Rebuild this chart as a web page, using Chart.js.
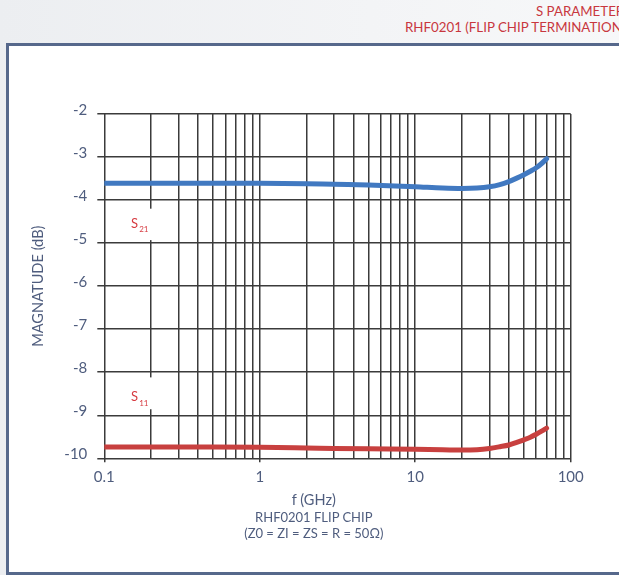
<!DOCTYPE html>
<html>
<head>
<meta charset="utf-8">
<script src="https://cdn.jsdelivr.net/npm/chart.js@4.4.1/dist/chart.umd.min.js"></script>
<style>
  html, body { margin: 0; padding: 0; width: 619px; height: 575px; overflow: hidden; }
  body { background: linear-gradient(90deg, #eceef1 0%, #f3f4f6 60%, #f7f8f9 100%); font-family: Lato, "Open Sans", sans-serif; position: relative; }
  .hdr { position: absolute; white-space: nowrap; color: #c8373e; font-size: 13.3px; line-height: 15px; }
  #panel { position: absolute; left: 6px; top: 43px; width: 700px; height: 532px; box-sizing: border-box;
           background: #ffffff; border: 3px solid #56688b; border-right: none; }
  #chartWrap { position: absolute; left: 0; top: 0; width: 619px; height: 575px; }
  #xnote { position: absolute; left: 163.8px; width: 300px; top: 490px; text-align: center; color: #4f5d7e; }
  #xnote .main { font-size: 14.5px; line-height: 20px; }
  #xnote .sub { font-size: 13px; line-height: 15.5px; }
</style>
</head>
<body>
<div class="hdr" style="left:536px; top:4px;">S PARAMETERS</div>
<div class="hdr" style="left:405px; top:20px;">RHF0201 (FLIP CHIP TERMINATION)</div>
<div id="panel"></div>
<div id="chartWrap"><canvas id="c" width="619" height="575"></canvas></div>
<div id="xnote">
  <div class="main">f (GHz)</div>
  <div class="sub">RHF0201 FLIP CHIP</div>
  <div class="sub">(Z0 = ZI = ZS = R = 50Ω)</div>
</div>
<script>
// Frequency sweep (GHz) and measured magnitudes (dB)
const freqGHz = [0.1, 0.2, 0.5, 1, 2, 3, 5, 10, 15, 20, 25, 30, 35, 40, 45, 50, 55, 60, 65, 70];
const s21dB   = [-3.61, -3.61, -3.61, -3.61, -3.62, -3.635, -3.65, -3.69, -3.72, -3.73, -3.72, -3.69, -3.64, -3.57, -3.49, -3.41, -3.33, -3.25, -3.15, -3.04];
const s11dB   = [-9.74, -9.74, -9.74, -9.745, -9.76, -9.77, -9.78, -9.79, -9.80, -9.81, -9.80, -9.77, -9.73, -9.69, -9.63, -9.57, -9.51, -9.44, -9.37, -9.30];

// Axis ticks
const xGridValues = [0.1,0.2,0.3,0.4,0.5,0.6,0.7,0.8,0.9,1,2,3,4,5,6,7,8,9,10,20,30,40,50,60,70,80,90,100];
const xTickLabels = { 0.1: '0.1', 1: '1', 10: '10', 100: '100' };
const yMin = -10, yMax = -2;

// Trace labels placed beside the 0.2 GHz grid line
const traceLabels = [
  { name: 'S', sub: '21', f: 0.2, dB: -4.54, boxTop: -4.2, boxBottom: -4.93 },
  { name: 'S', sub: '11', f: 0.2, dB: -8.58, boxTop: -8.12, boxBottom: -8.86 }
];

const gridColor = '#3b3b3b';
const textColor = '#4f5d7e';
const fontFamily = 'Lato, "Open Sans", sans-serif';
const isMajor = v => Math.abs(Math.log10(v) - Math.round(Math.log10(v))) < 1e-6;

const traceLabelPlugin = {
  id: 'traceLabels',
  afterDraw(chart) {
    const ctx = chart.ctx;
    const xs = chart.scales.x, ys = chart.scales.y;
    ctx.save();
    traceLabels.forEach(l => {
      const gx = xs.getPixelForValue(l.f);
      const top = ys.getPixelForValue(l.boxTop);
      const bot = ys.getPixelForValue(l.boxBottom);
      ctx.fillStyle = '#ffffff';
      ctx.fillRect(gx - 26, top, 30, bot - top);
      const y = ys.getPixelForValue(l.dB);
      ctx.fillStyle = '#d63a40';
      ctx.textBaseline = 'middle';
      ctx.textAlign = 'left';
      ctx.font = '13px ' + fontFamily;
      ctx.fillText(l.name, gx - 20, y);
      const w = ctx.measureText(l.name).width;
      ctx.font = '8px ' + fontFamily;
      ctx.fillText(l.sub, gx - 20 + w + 1, y + 6);
    });
    ctx.restore();
  }
};

new Chart(document.getElementById('c'), {
  type: 'line',
  data: {
    labels: freqGHz,
    datasets: [
      { label: 'S21', data: freqGHz.map((f, i) => ({ x: f, y: s21dB[i] })), borderColor: '#4179c1',
        borderWidth: 5, pointRadius: 0, cubicInterpolationMode: 'monotone', borderCapStyle: 'round' },
      { label: 'S11', data: freqGHz.map((f, i) => ({ x: f, y: s11dB[i] })), borderColor: '#c8403f',
        borderWidth: 5, pointRadius: 0, cubicInterpolationMode: 'monotone', borderCapStyle: 'round' }
    ]
  },
  options: {
    responsive: false,
    animation: false,
    events: [],
    layout: { padding: { left: 0, right: 48.3, top: 114, bottom: 0 } },
    plugins: { legend: { display: false }, tooltip: { enabled: false } },
    scales: {
      x: {
        type: 'logarithmic',
        min: 0.1, max: 100,
        afterBuildTicks(scale) { scale.ticks = xGridValues.map(v => ({ value: v })); },
        afterFit(scale) { scale.height = 575 - 458.3; },
        ticks: {
          autoSkip: false, maxRotation: 0, padding: 6,
          color: textColor, font: { family: fontFamily, size: 15 },
          callback: v => xTickLabels[v] || ''
        },
        grid: {
          color: gridColor, lineWidth: 1.5, tickLength: 4,
          tickColor: c => (c.tick && isMajor(c.tick.value)) ? gridColor : 'rgba(0,0,0,0)'
        },
        border: { display: false }
      },
      y: {
        min: yMin, max: yMax,
        afterFit(scale) { scale.width = 104.3; },
        ticks: {
          stepSize: 1, padding: 10, labelOffset: -4,
          color: textColor, font: { family: fontFamily, size: 15 }
        },
        grid: { color: gridColor, lineWidth: 1.5, tickLength: 7 },
        border: { display: false },
        title: {
          display: true, text: 'MAGNATUDE (dB)', color: textColor,
          font: { family: fontFamily, size: 14.6 }, padding: { top: 29.2, bottom: 0 }
        }
      }
    }
  },
  plugins: [traceLabelPlugin]
});
</script>
</body>
</html>
